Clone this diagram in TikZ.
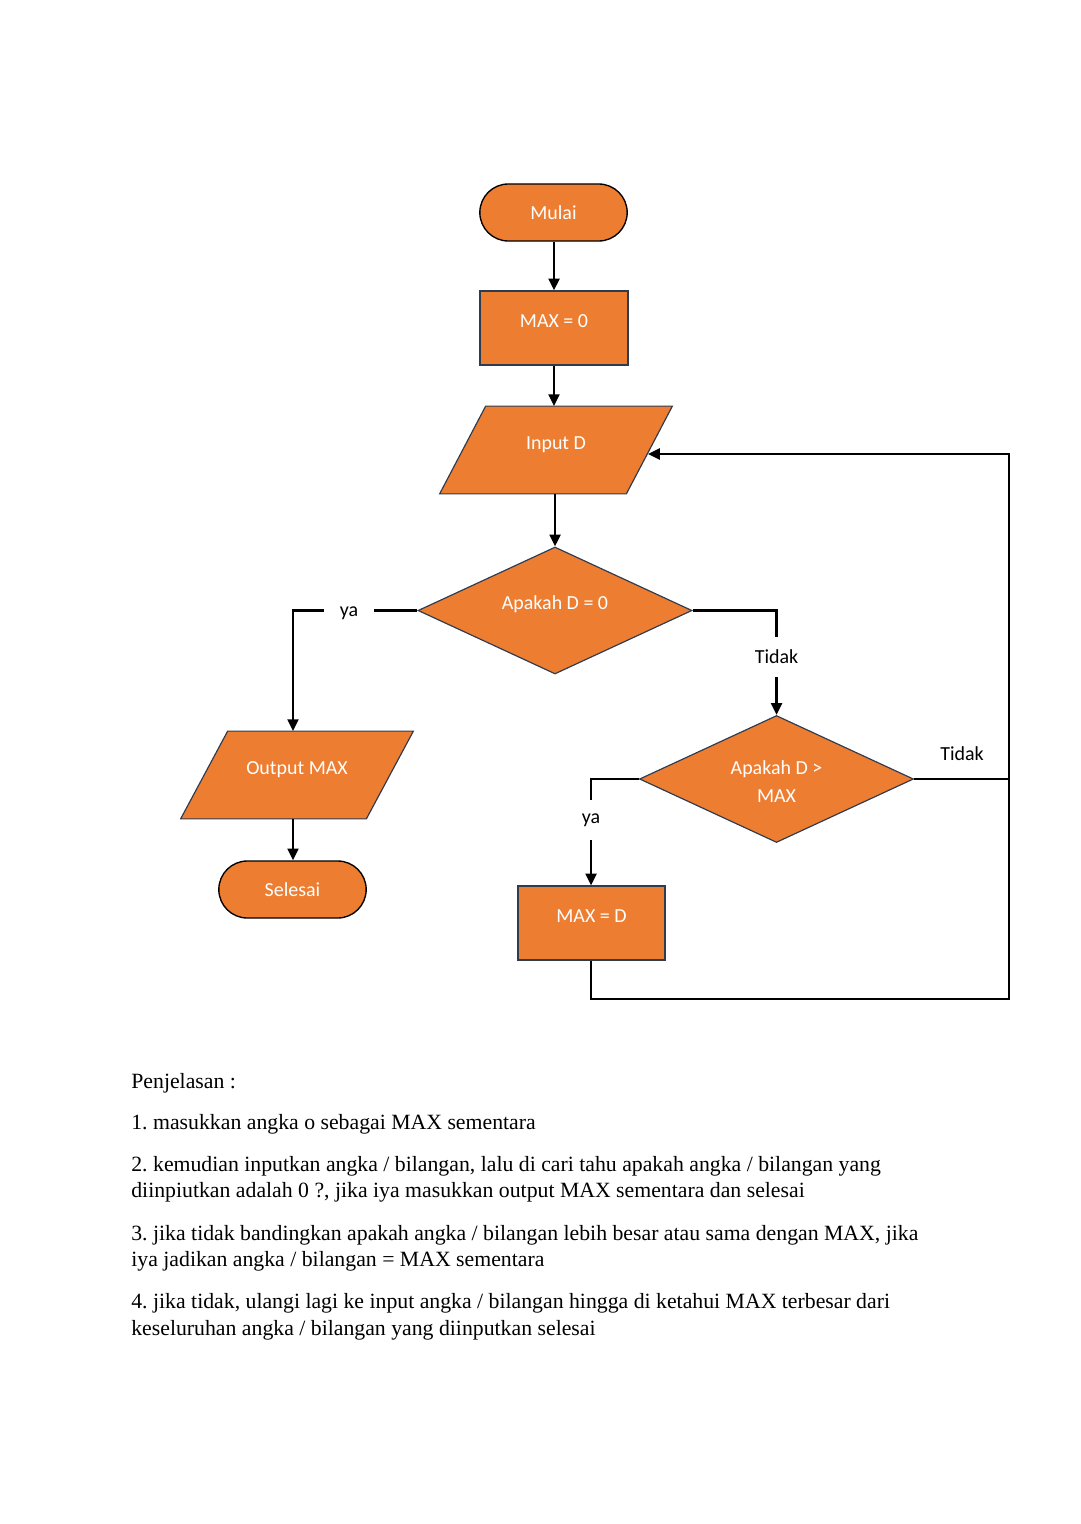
\documentclass[tikz,border=0pt]{standalone}
\usepackage{fontspec}
\setmainfont{Liberation Serif}
\newfontfamily\calfont{Carlito}
\usetikzlibrary{shapes.geometric,shapes.misc,arrows.meta,backgrounds}
\definecolor{orng}{HTML}{ED7D31}
\definecolor{edgec}{HTML}{2F3B4F}
\newcommand\pxu[1]{#1*0.5513pt}
\frenchspacing
\begin{document}
\begin{tikzpicture}[x=0.5513pt,y=-0.5513pt,
  lbl/.style={font=\calfont\fontsize{11}{15}\selectfont, text=white, inner sep=1pt},
  raised/.style={text height=7.5pt, text depth=8.5pt},
  term/.style={lbl, rounded rectangle, draw=black, line width=0.75pt, fill=orng,
    minimum width=\pxu{151}, minimum height=\pxu{57}},
  proc/.style={lbl, raised, rectangle, draw=edgec, line width=0.65pt, fill=orng,
    minimum width=\pxu{148}, minimum height=\pxu{74}},
  io/.style={lbl, raised, rectangle, minimum width=\pxu{232}, minimum height=\pxu{87}},
  iofill/.style={fill=orng, draw=edgec, line width=0.65pt, line join=miter},
  dec/.style={lbl, diamond, draw=edgec, line width=0.65pt, fill=orng, align=center,
    aspect=2.17, inner sep=0pt, minimum width=\pxu{274}, minimum height=\pxu{127}},
  conn/.style={line width=1.35pt, draw=black},
  arr/.style={conn, -{Triangle[length=6.5pt,width=6pt]}},
  blab/.style={font=\calfont\fontsize{11}{13.5}\selectfont, text=black, inner sep=0pt},
  body/.style={font=\fontsize{12}{14}\selectfont, anchor=base west, inner sep=0pt}
]
\useasboundingbox (0,0) rectangle (1080,1524);

% shapes
\node[term] (mulai) at (553.5,212.5) {Mulai};
\node[proc] (max0) at (554,328) {MAX = 0};
\node[io] (input) at (556,450) {Input D};
\node[dec, raised] (d1) at (555,610.5) {Apakah D = 0};
\node[io] (out) at (297,775) {Output MAX};
\node[term] (selesai) at (292.5,889.5) {Selesai};
\node[dec] (d2) at (776.5,779) {\strut Apakah D >\\MAX};
\node[proc, minimum width=\pxu{147}] (maxd) at (591.5,923) {MAX = D};

\begin{scope}[on background layer]
  \path[iofill] (input.south west) -- ([xshift=\pxu{46}]input.north west)
    -- (input.north east) -- ([xshift=-\pxu{46}]input.south east) -- cycle;
  \path[iofill] (out.south west) -- ([xshift=\pxu{47}]out.north west)
    -- (out.north east) -- ([xshift=-\pxu{47}]out.south east) -- cycle;
\end{scope}

% labels on connectors
\node[blab, minimum width=\pxu{50}] (ya1) at (349,613) {ya};
\node[blab, minimum height=\pxu{40}] (tdk1) at (776.5,657) {Tidak};
\node[blab, minimum height=\pxu{39}] (ya2) at (591,820) {ya};
\node[blab] (tdk2) at (962,754) {Tidak};

% loop coordinates
\coordinate (c3) at (1009,779);
\coordinate (c1) at (1009,999);
\coordinate (c2) at (1009,454);
\coordinate (inR) at (648,454);

% connectors
\draw[arr] (mulai.south -| max0.north) -- (max0.north);
\draw[arr] (max0.south) -- (max0.south |- input.north);
\draw[arr] (input.south -| d1.north) -- (d1.north);
\draw[conn] (d1.west) -- (ya1.east |- d1.west);
\draw[arr] (ya1.west |- d1.west) -| ([xshift=-\pxu{4}]out.north);
\draw[conn] (d1.east) -| (tdk1.north);
\draw[arr] (tdk1.south) -- (d2.north);
\draw[conn] (d2.west) -| (ya2.north);
\draw[arr] (ya2.south) -- (ya2.south |- maxd.north);
\draw[arr] ([xshift=-\pxu{4}]out.south) -- ([xshift=-\pxu{4}]out.south |- selesai.north);
\draw[conn] (d2.east) -- (c3);
\draw[arr] (ya2.south |- maxd.south) |- (c1) -- (c2) -- (inR);

% explanation text
\node[body] (t0) at (131,1088) {Penjelasan :};
\node[body] (t1) at (131,1129) {1. masukkan angka o sebagai MAX sementara};
\node[body] (t2) at (131,1171) {2. kemudian inputkan angka / bilangan, lalu di cari tahu apakah angka / bilangan yang};
\node[body] (t3) at (131,1197) {diinpiutkan adalah 0 ?, jika iya masukkan output MAX sementara dan selesai};
\node[body] (t4) at (131,1240) {3. jika tidak bandingkan apakah angka / bilangan lebih besar atau sama dengan MAX, jika};
\node[body] (t5) at (131,1266) {iya jadikan angka / bilangan = MAX sementara};
\node[body] (t6) at (131,1308) {4. jika tidak, ulangi lagi ke input angka / bilangan hingga di ketahui MAX terbesar dari};
\node[body] (t7) at (131,1335) {keseluruhan angka / bilangan yang diinputkan selesai};
\end{tikzpicture}
\end{document}
